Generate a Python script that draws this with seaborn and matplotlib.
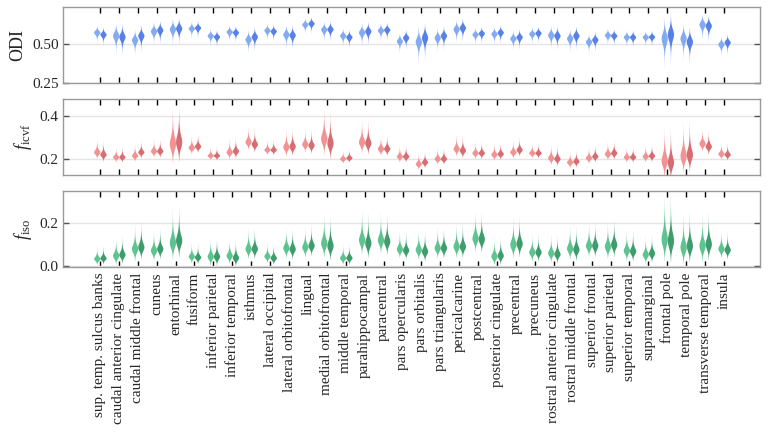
import numpy as np
import pandas as pd
import matplotlib
matplotlib.use("Agg")
import matplotlib.pyplot as plt
import seaborn as sns

regions = ["sup. temp. sulcus banks", "caudal anterior cingulate", "caudal middle frontal",
           "cuneus", "entorhinal", "fusiform", "inferior parietal", "inferior temporal",
           "isthmus", "lateral occipital", "lateral orbitofrontal", "lingual",
           "medial orbitofrontal", "middle temporal", "parahippocampal", "paracentral",
           "pars opercularis", "pars orbitalis", "pars triangularis", "pericalcarine",
           "postcentral", "posterior cingulate", "precentral", "precuneus",
           "rostral anterior cingulate", "rostral middle frontal", "superior frontal",
           "superior parietal", "superior temporal", "supramarginal", "frontal pole",
           "temporal pole", "transverse temporal", "insula"]

# mode of each violin (left / right hemisphere) and spread of each region
odi_lh = [0.577, 0.556, 0.528, 0.585, 0.598, 0.603, 0.556, 0.581, 0.532, 0.590, 0.564, 0.628,
          0.596, 0.556, 0.577, 0.590, 0.521, 0.517, 0.543, 0.598, 0.564, 0.568, 0.538, 0.568,
          0.560, 0.538, 0.517, 0.560, 0.547, 0.547, 0.538, 0.538, 0.628, 0.500]
odi_rh = [0.564, 0.549, 0.556, 0.592, 0.603, 0.607, 0.549, 0.577, 0.549, 0.585, 0.560, 0.635,
          0.598, 0.547, 0.585, 0.594, 0.543, 0.543, 0.556, 0.607, 0.571, 0.577, 0.547, 0.573,
          0.556, 0.556, 0.530, 0.556, 0.547, 0.549, 0.564, 0.517, 0.620, 0.513]
odi_spread = [0.0082, 0.014, 0.012, 0.0105, 0.012, 0.0075, 0.0075, 0.0075, 0.0105, 0.0075,
              0.0105, 0.0075, 0.009, 0.0082, 0.0105, 0.0082, 0.009, 0.0165, 0.0105, 0.0105,
              0.0075, 0.0082, 0.009, 0.0075, 0.0105, 0.0105, 0.009, 0.0075, 0.0075, 0.007,
              0.0225, 0.0165, 0.012, 0.009]

icvf_lh = [0.233, 0.210, 0.217, 0.238, 0.273, 0.254, 0.217, 0.233, 0.281, 0.244, 0.257, 0.270,
           0.297, 0.202, 0.281, 0.249, 0.213, 0.178, 0.202, 0.249, 0.229, 0.222, 0.233, 0.229,
           0.206, 0.186, 0.206, 0.225, 0.210, 0.213, 0.194, 0.217, 0.273, 0.225]
icvf_rh = [0.222, 0.210, 0.233, 0.238, 0.281, 0.260, 0.217, 0.238, 0.270, 0.244, 0.260, 0.265,
           0.276, 0.206, 0.276, 0.249, 0.213, 0.186, 0.202, 0.241, 0.229, 0.225, 0.244, 0.229,
           0.202, 0.190, 0.213, 0.229, 0.210, 0.216, 0.186, 0.222, 0.260, 0.222]
icvf_spread = [0.0056, 0.0042, 0.0047, 0.0051, 0.016, 0.0051, 0.0037, 0.0056, 0.0065, 0.0042,
               0.0075, 0.0065, 0.013, 0.0037, 0.0093, 0.0056, 0.0047, 0.0047, 0.0047, 0.006,
               0.0047, 0.0047, 0.0051, 0.0042, 0.0056, 0.0047, 0.0047, 0.0051, 0.0042, 0.0047,
               0.014, 0.014, 0.0065, 0.0047]

iso_lh = [0.033, 0.048, 0.080, 0.072, 0.110, 0.044, 0.044, 0.048, 0.080, 0.045, 0.084, 0.088,
          0.107, 0.037, 0.122, 0.122, 0.079, 0.076, 0.084, 0.091, 0.130, 0.045, 0.100, 0.064,
          0.060, 0.082, 0.095, 0.091, 0.072, 0.053, 0.127, 0.088, 0.095, 0.080]
iso_rh = [0.036, 0.053, 0.088, 0.080, 0.119, 0.040, 0.044, 0.038, 0.080, 0.037, 0.079, 0.095,
          0.095, 0.037, 0.107, 0.115, 0.073, 0.068, 0.084, 0.091, 0.126, 0.048, 0.105, 0.064,
          0.055, 0.077, 0.095, 0.100, 0.069, 0.059, 0.119, 0.095, 0.103, 0.075]
iso_spread = [0.005, 0.0074, 0.010, 0.0083, 0.0138, 0.0055, 0.0074, 0.0069, 0.0083, 0.0055,
              0.0083, 0.0083, 0.012, 0.0055, 0.012, 0.011, 0.0074, 0.0083, 0.0083, 0.0092,
              0.011, 0.0074, 0.011, 0.0074, 0.0074, 0.0092, 0.0092, 0.010, 0.0083, 0.0074,
              0.018, 0.0138, 0.013, 0.0074]

# tail factors (lower, upper) for each measure
odi_tails = (1.5, 1.0)
icvf_tails = (1.0, 2.0)
iso_tails = (1.0, 2.0)

hemis = ["lh", "rh"]


def laplace_quantiles(mode, spread, tails, n=300):
    p = (np.arange(n) + 0.5) / n
    z = np.where(p < 0.5, np.log(2 * p), -np.log(2 * (1 - p)))
    return mode + np.where(z < 0, z * spread * tails[0], z * spread * tails[1])


def long_frame(lh, rh, spread, tails):
    rows = []
    for name, m_l, m_r, s in zip(regions, lh, rh, spread):
        for h, m in zip(hemis, (m_l, m_r)):
            for v in laplace_quantiles(m, s, tails):
                rows.append((name, h, v))
    return pd.DataFrame(rows, columns=["region", "hemi", "value"])


sns.set_theme(style="white")
plt.rcParams["font.family"] = ["Liberation Serif", "DejaVu Serif"]
plt.rcParams["mathtext.fontset"] = "custom"
plt.rcParams["mathtext.rm"] = "Liberation Serif"
plt.rcParams["mathtext.it"] = "Liberation Serif:italic"

fig = plt.figure(figsize=(7.69, 4.33), dpi=100)
W, H = 769, 433
left, right = 63, 760
panels = [
    (7, 83, long_frame(odi_lh, odi_rh, odi_spread, odi_tails), ["#84aaf2", "#5781e6"],
     (0.25, 0.74), [0.25, 0.50], ["0.25", "0.50"], "ODI"),
    (99, 175, long_frame(icvf_lh, icvf_rh, icvf_spread, icvf_tails), ["#f29393", "#d66d73"],
     (0.125, 0.48), [0.2, 0.4], ["0.2", "0.4"], r"$f_{\mathrm{icvf}}$"),
    (191, 267, long_frame(iso_lh, iso_rh, iso_spread, iso_tails), ["#5ec48f", "#3f9c6d"],
     (-0.007, 0.35), [0.0, 0.2], ["0.0", "0.2"], r"$f_{\mathrm{iso}}$"),
]

for i, (top, bot, df, cols, ylim, yt, ytl, lab) in enumerate(panels):
    ax = fig.add_axes([left / W, 1 - bot / H, (right - left) / W, (bot - top) / H])
    sns.violinplot(data=df, x="region", y="value", hue="hemi", order=regions,
                   hue_order=hemis, palette=cols, width=0.66, gap=0, dodge=True,
                   inner=None, linewidth=0, cut=0, bw_adjust=2.0,
                   density_norm="width", saturation=1, legend=False, ax=ax)
    ax.set_xlim(-1.95, 34.9)
    ax.set_ylim(*ylim)
    ax.set_yticks(yt)
    ax.set_yticklabels(ytl, fontsize=11)
    ax.yaxis.grid(True, color="#e4e4e4", lw=1)
    ax.set_axisbelow(True)
    ax.set_ylabel(lab, fontsize=13, labelpad=4)
    ax.set_xlabel("")
    ax.tick_params(axis="x", direction="in", top=True, bottom=True, length=4.5,
                   width=1, color="black", pad=4)
    ax.tick_params(axis="y", direction="in", left=True, right=True, length=4,
                   width=1, color="#555555", pad=3)
    for sp in ax.spines.values():
        sp.set_color("#999999")
        sp.set_linewidth(1)
    if i < 2:
        ax.set_xticklabels([])
    else:
        ax.set_xticks(range(len(regions)))
        ax.set_xticklabels(regions, rotation=90, fontsize=11)

fig.savefig("out.png", dpi=100)
